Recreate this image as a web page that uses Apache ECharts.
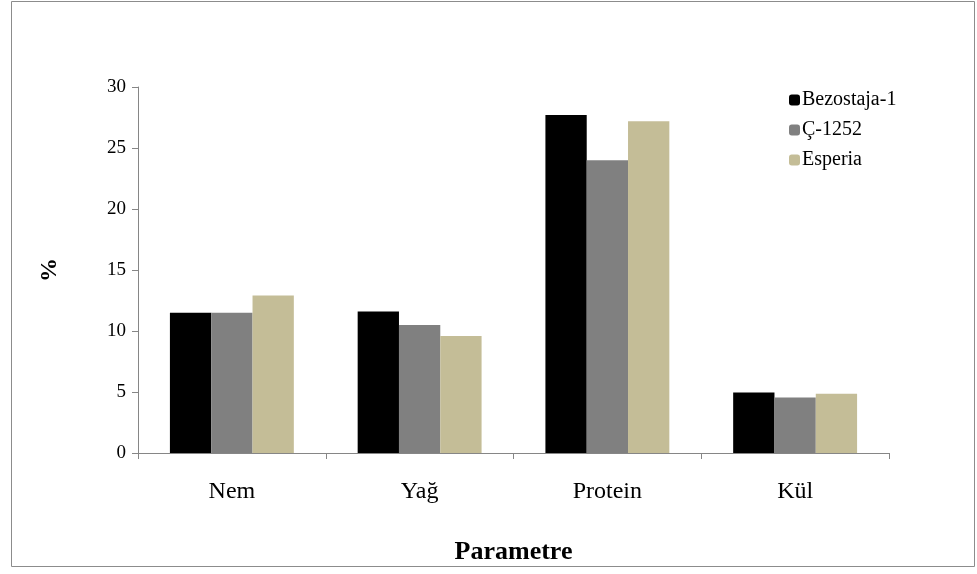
<!DOCTYPE html>
<html>
<head>
<meta charset="utf-8">
<script src="https://cdn.jsdelivr.net/npm/echarts@6/dist/echarts.min.js"></script>
<style>html,body{margin:0;padding:0;background:#fff}#c{width:977px;height:574px}</style>
</head>
<body>
<div id="c"></div>
<script>
const categories = ['Nem', 'Yağ', 'Protein', 'Kül'];
const seriesNames = ['Bezostaja-1', 'Ç-1252', 'Esperia'];
const bezostaja = [11.5, 11.6, 27.7, 4.95];
const c1252 = [11.5, 10.5, 24.0, 4.55];
const esperia = [12.9, 9.6, 27.2, 4.85];
const yTicks = [0, 5, 10, 15, 20, 25, 30];
const colors = ['#000000', '#808080', '#C4BD97'];
const values = [bezostaja, c1252, esperia];
const font = '"Liberation Serif", "Times New Roman", serif';

const chart = echarts.init(document.getElementById('c'));
chart.setOption({
  animation: false,
  backgroundColor: '#fff',
  graphic: [{
    type: 'rect', shape: {x: 11.5, y: 1.5, width: 963, height: 565},
    style: {fill: 'none', stroke: '#8c8c8c', lineWidth: 1}, silent: true
  }],
  legend: {
    orient: 'vertical', left: 784, top: 85, itemWidth: 11, itemHeight: 11, itemGap: 10,
    textStyle: {fontFamily: font, fontSize: 20, color: '#000', padding: [0, 0, 0, -3]},
    data: seriesNames
  },
  grid: {left: 138, right: 88, top: 87, bottom: 121},
  xAxis: {
    type: 'category', data: categories,
    name: 'Parametre', nameLocation: 'middle', nameGap: 86,
    nameTextStyle: {fontFamily: font, fontSize: 26, fontWeight: 'bold', color: '#000'},
    axisLine: {lineStyle: {color: '#868686'}},
    axisTick: {show: true, length: 6, lineStyle: {color: '#868686'}},
    axisLabel: {fontFamily: font, fontSize: 24, color: '#000', margin: 27}
  },
  yAxis: {
    type: 'value', min: 0, max: 30, interval: 5,
    name: '%', nameLocation: 'middle', nameGap: 76, nameRotate: 90,
    nameTextStyle: {fontFamily: font, fontSize: 24, fontWeight: 'bold', color: '#000'},
    axisLine: {show: true, lineStyle: {color: '#868686'}},
    axisTick: {show: true, length: 6, lineStyle: {color: '#868686'}},
    splitLine: {show: false},
    axisLabel: {fontFamily: font, fontSize: 19, color: '#000', margin: 12,
      formatter: v => yTicks.includes(v) ? String(v) : ''}
  },
  series: seriesNames.map((n, i) => ({
    name: n, type: 'bar', data: values[i],
    barGap: '0%', barCategoryGap: '34%',
    itemStyle: {color: colors[i]}
  }))
});
</script>
</body>
</html>
